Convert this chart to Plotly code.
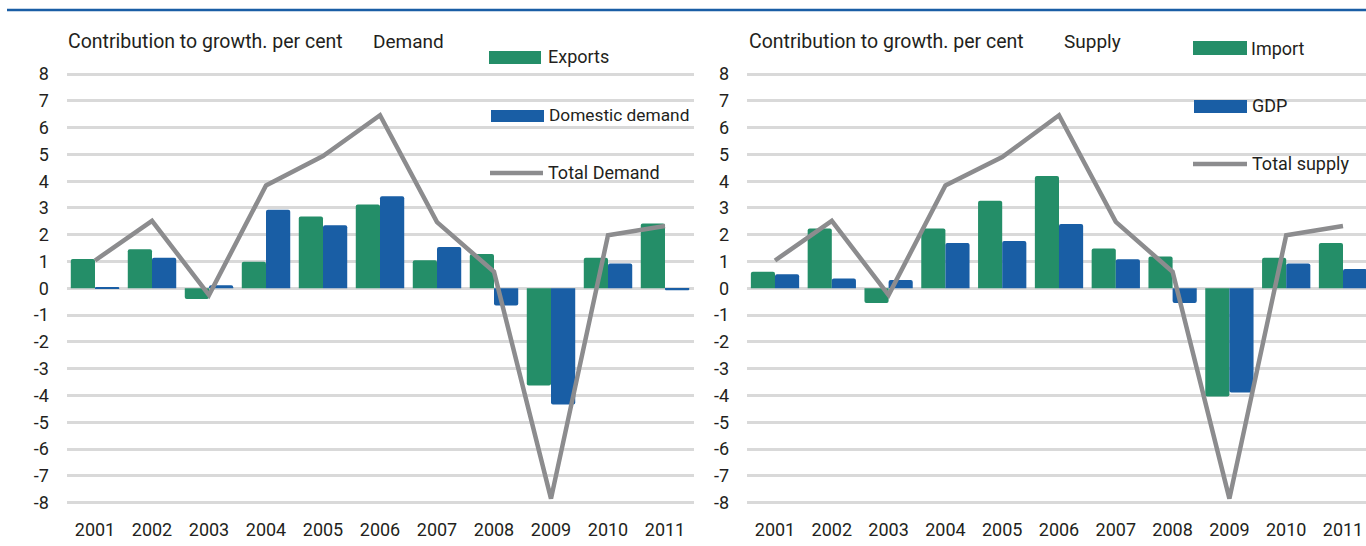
import plotly.graph_objects as go

# ---------------- data ----------------
years = ['2001', '2002', '2003', '2004', '2005', '2006', '2007', '2008', '2009', '2010', '2011']

exports = [1.10, 1.46, -0.40, 0.99, 2.68, 3.13, 1.05, 1.28, -3.63, 1.14, 2.42]
domestic_demand = [0.05, 1.14, 0.12, 2.93, 2.36, 3.44, 1.54, -0.64, -4.34, 0.93, -0.07]
total_demand = [1.04, 2.52, -0.25, 3.84, 4.94, 6.46, 2.47, 0.62, -7.85, 1.98, 2.33]

imports = [0.62, 2.23, -0.55, 2.23, 3.27, 4.19, 1.49, 1.19, -4.04, 1.14, 1.69]
gdp = [0.53, 0.37, 0.31, 1.69, 1.77, 2.40, 1.09, -0.55, -3.89, 0.93, 0.72]
total_supply = [1.04, 2.52, -0.25, 3.84, 4.90, 6.46, 2.48, 0.62, -7.85, 1.98, 2.33]

y_ticks = list(range(-8, 9))
y_tick_labels = [str(v) for v in y_ticks]

# ---------------- style ----------------
W, H = 1366, 546
GREEN = '#248E68'
BLUE = '#195EA5'
GREY = '#8C8C8E'
GRID = '#D9D9D9'
TEXT = '#231F20'
FONT = 'Roboto'
FS = 18


def px(x):
    return x / W


def py(y):
    return 1 - y / H


fig = go.Figure()

fig.add_trace(go.Bar(x=years, y=exports, name='Exports', marker_color=GREEN,
                     marker_line_width=0, xaxis='x', yaxis='y'))
fig.add_trace(go.Bar(x=years, y=domestic_demand, name='Domestic demand', marker_color=BLUE,
                     marker_line_width=0, xaxis='x', yaxis='y'))
fig.add_trace(go.Scatter(x=years, y=total_demand, name='Total Demand', mode='lines',
                         line=dict(color=GREY, width=4.5), xaxis='x', yaxis='y'))

fig.add_trace(go.Bar(x=years, y=imports, name='Import', marker_color=GREEN,
                     marker_line_width=0, xaxis='x2', yaxis='y2'))
fig.add_trace(go.Bar(x=years, y=gdp, name='GDP', marker_color=BLUE,
                     marker_line_width=0, xaxis='x2', yaxis='y2'))
fig.add_trace(go.Scatter(x=years, y=total_supply, name='Total supply', mode='lines',
                         line=dict(color=GREY, width=4.5), xaxis='x2', yaxis='y2'))

ydom = [1 - 510.7 / H, 1 - 66.0 / H]
yax = dict(range=[-8.3, 8.3], tickvals=y_ticks, ticktext=y_tick_labels,
           showgrid=True, gridcolor=GRID, gridwidth=2.5,
           zeroline=False, showline=False, ticks='outside', ticklen=13,
           tickcolor='rgba(0,0,0,0)', tickfont=dict(family=FONT, size=FS, color=TEXT),
           domain=ydom, automargin=False, fixedrange=True)
xax = dict(type='category', showgrid=False, zeroline=False, showline=False,
           ticks='outside', ticklen=3, tickcolor='rgba(0,0,0,0)',
           tickfont=dict(family=FONT, size=FS, color=TEXT), automargin=False)

fig.update_layout(
    width=W, height=H,
    margin=dict(l=0, r=0, t=0, b=0),
    paper_bgcolor='white', plot_bgcolor='white',
    showlegend=False,
    barmode='group', bargap=0.15, bargroupgap=0.0, barcornerradius=2,
    font=dict(family=FONT, size=FS, color=TEXT),
    xaxis=dict(xax, domain=[px(66.5), px(693.5)], range=[-0.5, 10.5], anchor='y'),
    yaxis=dict(yax, anchor='x'),
    xaxis2=dict(xax, domain=[px(746.6), 1.0], range=[-0.5, 10.405], anchor='y2'),
    yaxis2=dict(yax, anchor='x2'),
)

shapes = []
annotations = []

# top rule
shapes.append(dict(type='line', xref='paper', yref='paper', x0=px(7), x1=1.0,
                   y0=py(10), y1=py(10), line=dict(color='#1A5EA5', width=2.5)))


def text(x, y, s, size=FS):
    annotations.append(dict(xref='paper', yref='paper', x=px(x), y=py(y), text=s,
                            showarrow=False, xanchor='left', yanchor='middle',
                            font=dict(family=FONT, size=size, color=TEXT)))


def swatch(x0, x1, y0, y1, color):
    shapes.append(dict(type='rect', xref='paper', yref='paper', x0=px(x0), x1=px(x1),
                       y0=py(y1), y1=py(y0), fillcolor=color, line=dict(width=0)))


def line_swatch(x0, x1, y):
    shapes.append(dict(type='line', xref='paper', yref='paper', x0=px(x0), x1=px(x1),
                       y0=py(y), y1=py(y), line=dict(color=GREY, width=4.5)))


# panel titles
text(66, 42, 'Contribution to growth. per cent', 19.5)
text(371, 42, 'Demand', 19)
text(747, 42, 'Contribution to growth. per cent', 19.5)
text(1062, 42, 'Supply', 19)

# left legend
swatch(489, 541, 51, 64, GREEN)
text(546, 57, 'Exports')
swatch(491, 544, 110, 122, BLUE)
text(547, 115, 'Domestic demand', 17.3)
line_swatch(490, 543, 173)
text(546, 172, 'Total Demand')

# right legend
swatch(1193, 1247, 41, 55, GREEN)
text(1249, 48, 'Import')
swatch(1194, 1247, 100, 113, BLUE)
text(1250, 106, 'GDP')
line_swatch(1193, 1247, 164)
text(1250, 163, 'Total supply')

fig.update_layout(shapes=shapes, annotations=annotations)

fig.write_html('out.html', config={'displayModeBar': False},
               post_script="document.body.style.margin='0';document.body.style.padding='0';")
